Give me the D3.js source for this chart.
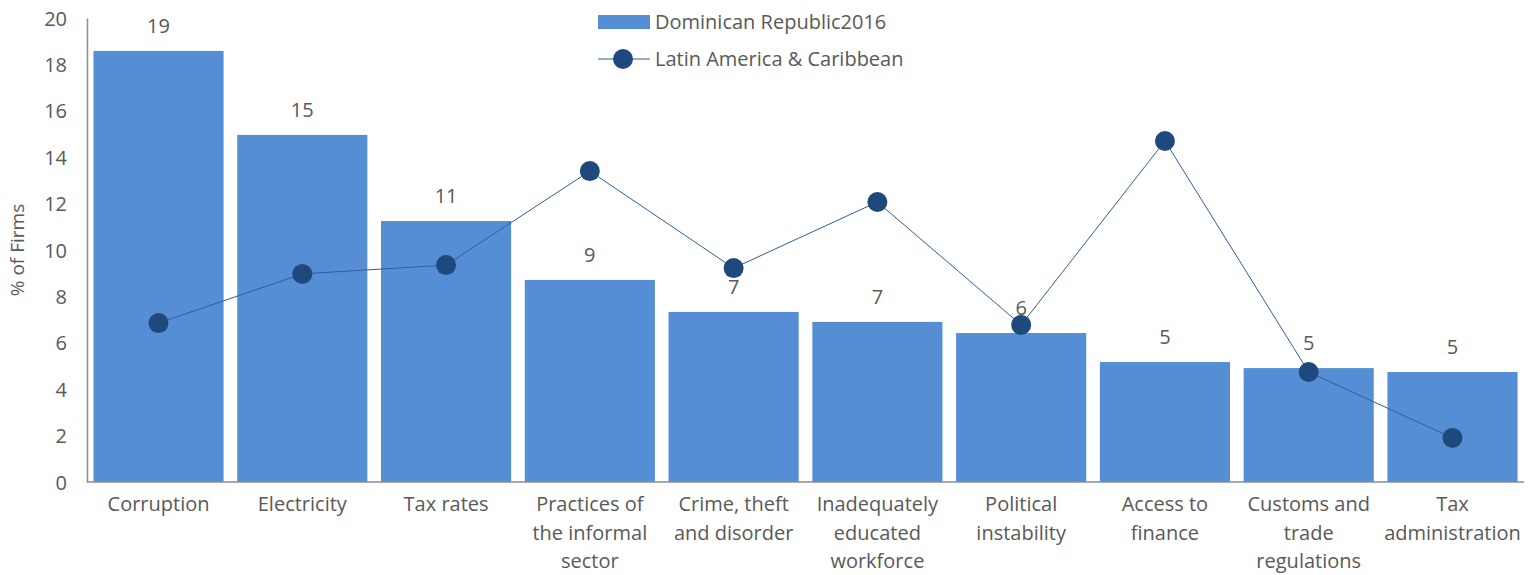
<!DOCTYPE html>
<html>
<head>
<meta charset="utf-8">
<script src="https://cdn.jsdelivr.net/npm/d3@7"></script>
<style>
 body{margin:0;background:#fff;}
 text{font-family:"Open Sans",sans-serif;fill:#595959;}
</style>
</head>
<body>
<script>
// data
var cats=["Corruption","Electricity","Tax rates","Practices of the informal sector","Crime, theft and disorder","Inadequately educated workforce","Political instability","Access to finance","Customs and trade regulations","Tax administration"];
var catlines=[["Corruption"],["Electricity"],["Tax rates"],["Practices of","the informal","sector"],["Crime, theft","and disorder"],["Inadequately","educated","workforce"],["Political","instability"],["Access to","finance"],["Customs and","trade","regulations"],["Tax","administration"]];
var drVals=[18.58,14.96,11.25,8.71,7.33,6.9,6.42,5.17,4.91,4.74];
var lacVals=[6.85,8.97,9.35,13.4,9.22,12.07,6.77,14.7,4.74,1.9];
var yTicks=[0,2,4,6,8,10,12,14,16,18,20];
var serNames=["Dominican Republic2016","Latin America & Caribbean"];
// layout
var wid=1536, hgh=575;
var x0=87, x1=1524, ytop=18, ybot=482;
var barcol="#558ED5", dotcol="#1F497D", linecol="#2F5F9A";
var fnt='"Open Sans",sans-serif';
var fs='20px';

var svg=d3.select('body').append('svg').attr('width',wid).attr('height',hgh);
var x=d3.scaleBand().domain(cats).range([x0,x1]).paddingInner(0.095).paddingOuter(0.045);
var y=d3.scaleLinear().domain([0,20]).range([ybot,ytop]);

// bars
svg.selectAll('rect.bar').data(drVals).enter().append('rect').attr('class','bar')
  .attr('x',function(d,i){return x(cats[i]);}).attr('width',x.bandwidth())
  .attr('y',function(d){return y(d);}).attr('height',function(d){return ybot-y(d);})
  .attr('fill',barcol);

// axes
var yAxis=svg.append('g').attr('transform','translate('+x0+',0)')
  .call(d3.axisLeft(y).tickValues(yTicks).tickSize(0).tickPadding(20));
yAxis.select('.domain').attr('stroke','#8c8c8c').attr('stroke-width',1.5);
yAxis.selectAll('text').style('font-size',fs).style('font-family',fnt).attr('fill','#595959').attr('dy','0.35em');

var xAxis=svg.append('g').attr('transform','translate(0,'+ybot+')')
  .call(d3.axisBottom(x).tickSize(0).tickFormat(''));
xAxis.select('.domain').attr('stroke','#8c8c8c').attr('stroke-width',1.5).attr('d','M'+x0+',0H'+x1);
xAxis.selectAll('.tick').each(function(d,i){
  var t=d3.select(this).append('text').attr('text-anchor','middle').attr('y',29)
    .style('font-size',fs).style('font-family',fnt).attr('fill','#595959');
  catlines[i].forEach(function(l,j){
    t.append('tspan').attr('x',0).attr('dy',j==0?0:28.5).text(l);
  });
});

// data labels
svg.selectAll('text.lbl').data(drVals).enter().append('text').attr('class','lbl')
  .attr('x',function(d,i){return x(cats[i])+x.bandwidth()/2;})
  .attr('y',function(d){return y(d)-18;}).attr('text-anchor','middle')
  .style('font-size',fs).text(function(d){return Math.round(d);});

// line
var line=d3.line().x(function(d,i){return x(cats[i])+x.bandwidth()/2;}).y(function(d){return y(d);});
svg.append('path').datum(lacVals).attr('d',line).attr('fill','none').attr('stroke',linecol).attr('stroke-width',1);
svg.selectAll('circle.dot').data(lacVals).enter().append('circle').attr('class','dot')
  .attr('cx',function(d,i){return x(cats[i])+x.bandwidth()/2;}).attr('cy',function(d){return y(d);})
  .attr('r',10).attr('fill',dotcol);

// y title
svg.append('text').attr('transform','translate(24,'+(ytop+ybot)/2+') rotate(-90)')
  .attr('text-anchor','middle').style('font-size','19px').text('% of Firms');

// legend
var lg=svg.append('g');
lg.append('rect').attr('x',598).attr('y',15).attr('width',52).attr('height',14).attr('fill',barcol);
lg.append('text').attr('x',655).attr('y',29).style('font-size',fs).text(serNames[0]);
lg.append('line').attr('x1',598).attr('x2',650).attr('y1',59).attr('y2',59).attr('stroke',linecol).attr('stroke-width',1);
lg.append('circle').attr('cx',623).attr('cy',59).attr('r',10).attr('fill',dotcol);
lg.append('text').attr('x',655).attr('y',66).style('font-size',fs).text(serNames[1]);
</script>
</body>
</html>
